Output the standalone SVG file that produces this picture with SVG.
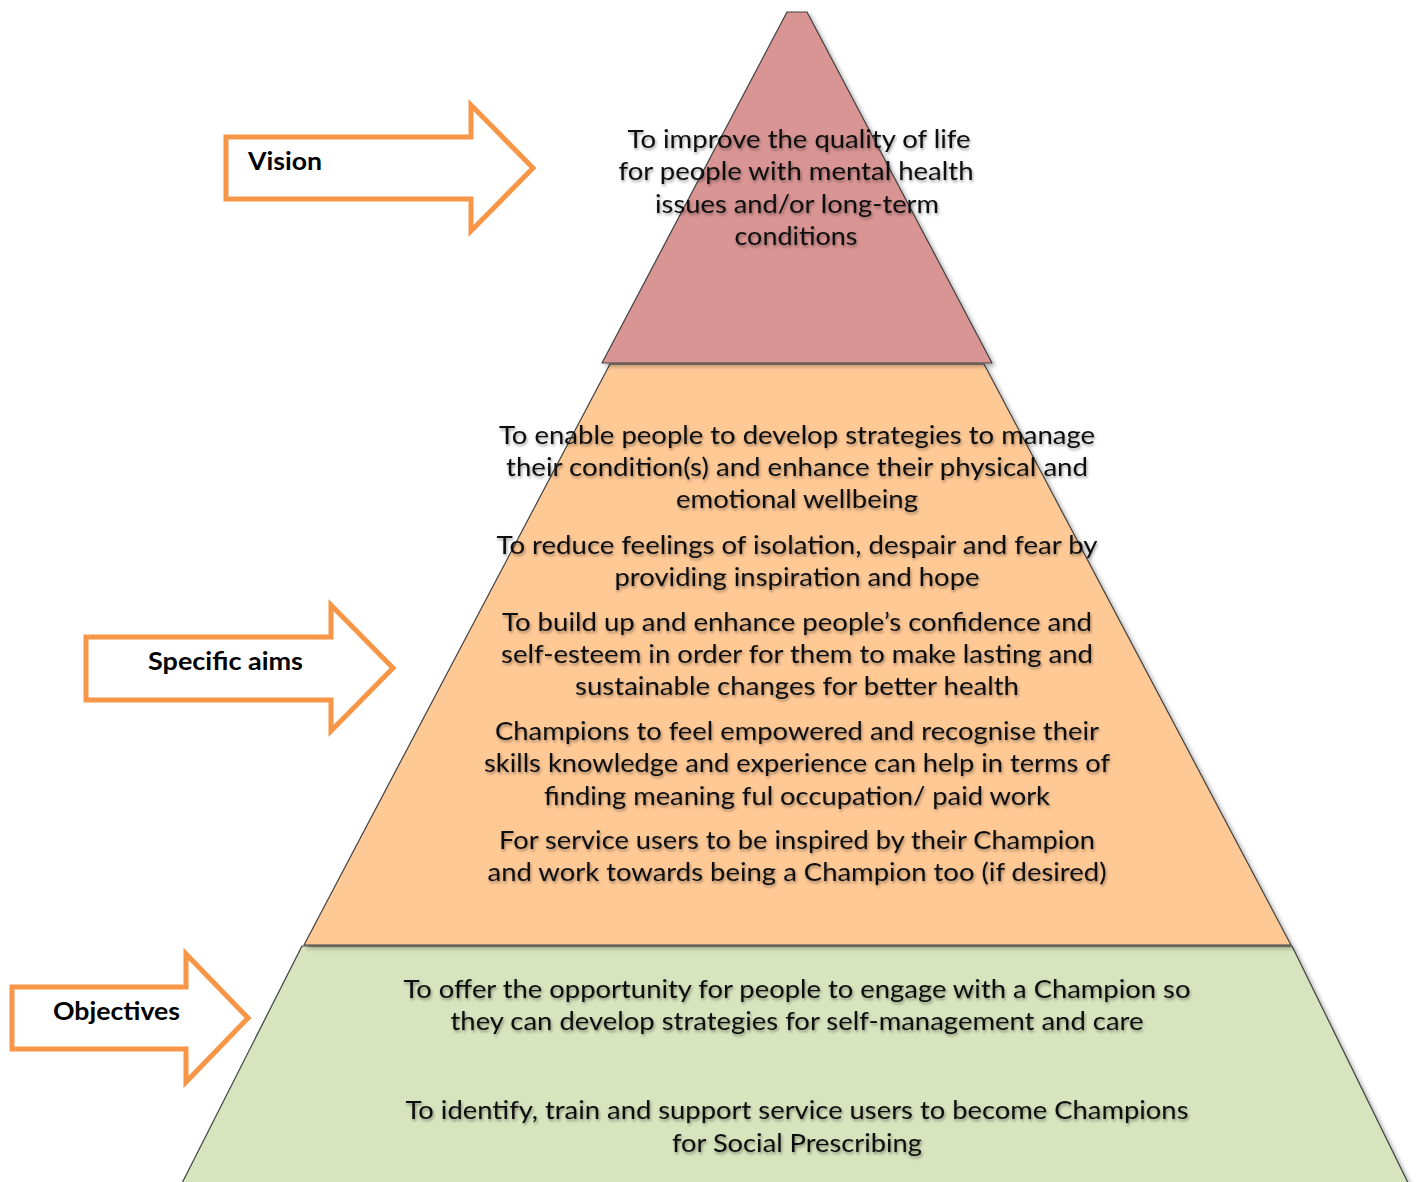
<svg xmlns="http://www.w3.org/2000/svg" width="1417" height="1182" viewBox="0 0 1417 1182">
<style>
.tier{stroke:#404040;stroke-width:1.2;stroke-linejoin:round}
.t{font-family:Lato,"Open Sans","Liberation Sans",sans-serif;font-size:24.5px;fill:#111;text-anchor:middle}
.lbl{font-family:Lato,"Open Sans","Liberation Sans",sans-serif;font-size:24px;font-weight:bold;fill:#000}
.arrow{fill:#fff;stroke:#F79646;stroke-width:5;stroke-linejoin:miter}
</style>
<defs>
<filter id="sh" x="-5%" y="-5%" width="110%" height="110%">
<feGaussianBlur in="SourceAlpha" stdDeviation="2"/>
<feOffset dx="3" dy="3" result="b"/>
<feComponentTransfer><feFuncA type="linear" slope="0.3"/></feComponentTransfer>
<feMerge><feMergeNode/><feMergeNode in="SourceGraphic"/></feMerge>
</filter>
<filter id="tsh" x="-5%" y="-20%" width="110%" height="140%">
<feGaussianBlur in="SourceAlpha" stdDeviation="1.6"/>
<feOffset dx="1" dy="1.5" result="b"/>
<feComponentTransfer><feFuncA type="linear" slope="0.4"/></feComponentTransfer>
<feMerge><feMergeNode/><feMergeNode in="SourceGraphic"/></feMerge>
</filter>
</defs>
<rect width="1417" height="1182" fill="#fff"/>
<g id="tier-bottom">
<polygon class="tier" filter="url(#sh)" fill="#D7E4BD" points="302,946 1292,946 1414,1195 176,1195"/>
<g filter="url(#tsh)">
<text class="t" x="797" y="998" textLength="787" lengthAdjust="spacingAndGlyphs">To offer the opportunity for people to engage with a Champion so</text>
<text class="t" x="797" y="1030" textLength="693" lengthAdjust="spacingAndGlyphs">they can develop strategies for self-management and care</text>
<text class="t" x="797" y="1119" textLength="783" lengthAdjust="spacingAndGlyphs">To identify, train and support service users to become Champions</text>
<text class="t" x="797" y="1152" textLength="250" lengthAdjust="spacingAndGlyphs">for Social Prescribing</text>
</g>
</g>
<g id="tier-middle">
<polygon class="tier" filter="url(#sh)" fill="#FFC996" points="610,364 984,364 1291,945 304,945"/>
<g filter="url(#tsh)">
<text class="t" x="797" y="444" textLength="596" lengthAdjust="spacingAndGlyphs">To enable people to develop strategies to manage</text>
<text class="t" x="797" y="476" textLength="582" lengthAdjust="spacingAndGlyphs">their condition(s) and enhance their physical and</text>
<text class="t" x="797" y="508" textLength="242" lengthAdjust="spacingAndGlyphs">emotional wellbeing</text>
<text class="t" x="797" y="554" textLength="601" lengthAdjust="spacingAndGlyphs">To reduce feelings of isolation, despair and fear by</text>
<text class="t" x="797" y="586" textLength="365" lengthAdjust="spacingAndGlyphs">providing inspiration and hope</text>
<text class="t" x="797" y="631" textLength="590" lengthAdjust="spacingAndGlyphs">To build up and enhance people’s confidence and</text>
<text class="t" x="797" y="663" textLength="592" lengthAdjust="spacingAndGlyphs">self-esteem in order for them to make lasting and</text>
<text class="t" x="797" y="695" textLength="444" lengthAdjust="spacingAndGlyphs">sustainable changes for better health</text>
<text class="t" x="797" y="740" textLength="604" lengthAdjust="spacingAndGlyphs">Champions to feel empowered and recognise their</text>
<text class="t" x="797" y="772" textLength="626" lengthAdjust="spacingAndGlyphs">skills knowledge and experience can help in terms of</text>
<text class="t" x="797" y="805" textLength="506" lengthAdjust="spacingAndGlyphs">finding meaning ful occupation/ paid work</text>
<text class="t" x="797" y="849" textLength="596" lengthAdjust="spacingAndGlyphs">For service users to be inspired by their Champion</text>
<text class="t" x="797" y="881" textLength="619" lengthAdjust="spacingAndGlyphs">and work towards being a Champion too (if desired)</text>
</g>
</g>
<g id="tier-top">
<polygon class="tier" filter="url(#sh)" fill="#D99594" points="787,12 807,12 992,363 602,363"/>
<g filter="url(#tsh)">
<text class="t" x="799" y="148" textLength="343" lengthAdjust="spacingAndGlyphs">To improve the quality of life</text>
<text class="t" x="796" y="180" textLength="355" lengthAdjust="spacingAndGlyphs">for people with mental health</text>
<text class="t" x="797" y="213" textLength="284" lengthAdjust="spacingAndGlyphs">issues and/or long-term</text>
<text class="t" x="796" y="245" textLength="123" lengthAdjust="spacingAndGlyphs">conditions</text>
</g>
</g>
<g id="connectors">
<g id="arrow-vision">
<polygon class="arrow" points="226,137 471,137 471,105 533,168 471,231 471,199 226,199"/>
<text class="lbl" x="248" y="170" textLength="74" lengthAdjust="spacingAndGlyphs">Vision</text>
</g>
<g id="arrow-aims">
<polygon class="arrow" points="86,637 331,637 331,605 393,668 331,731 331,700 86,700"/>
<text class="lbl" x="148" y="670" textLength="155" lengthAdjust="spacingAndGlyphs">Specific aims</text>
</g>
<g id="arrow-objectives">
<polygon class="arrow" points="12,987 186,987 186,954 248,1018 186,1082 186,1049 12,1049"/>
<text class="lbl" x="53" y="1020" textLength="127" lengthAdjust="spacingAndGlyphs">Objectives</text>
</g>
</g>
</svg>
